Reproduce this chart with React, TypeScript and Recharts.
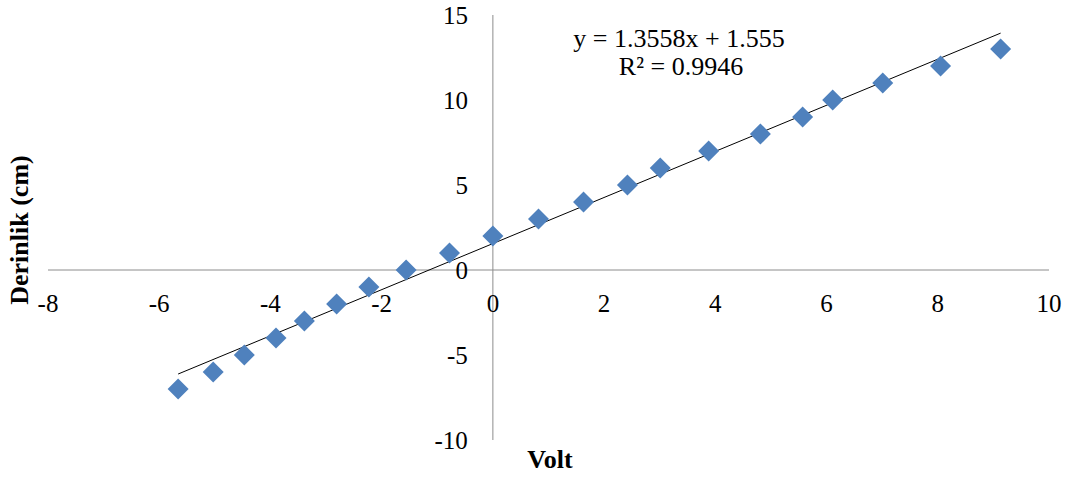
import { ComposedChart, Scatter, XAxis, YAxis, ReferenceLine, ReferenceDot } from "recharts";

// Volt readings (x) and depth in cm (y)
const volt = [
  -5.66, -5.03, -4.47, -3.9, -3.39, -2.81, -2.23, -1.56, -0.78, 0, 0.82,
  1.63, 2.42, 3.01, 3.88, 4.81, 5.57, 6.11, 7.01, 8.05, 9.13,
];
const depth = [-7, -6, -5, -4, -3, -2, -1, 0, 1, 2, 3, 4, 5, 6, 7, 8, 9, 10, 11, 12, 13];

const xTicks = [-8, -6, -4, -2, 0, 2, 4, 6, 8, 10];
const yTicks = [-10, -5, 0, 5, 10, 15];

// linear trendline as given on the chart
const slope = 1.3558;
const intercept = 1.555;

const FONT = "'Liberation Serif', 'Times New Roman', serif";
const AXIS_GRAY = "#8c8c8c";

const points = volt.map((v, i) => ({ x: v, y: depth[i] }));
const xMin = Math.min(...volt);
const xMax = Math.max(...volt);
const trend = [
  { x: xMin, y: slope * xMin + intercept },
  { x: xMax, y: slope * xMax + intercept },
];

const Diamond = (props: any) => {
  const { cx, cy } = props;
  const r = 10.5;
  return (
    <polygon
      points={`${cx},${cy - r} ${cx + r},${cy} ${cx},${cy + r} ${cx - r},${cy}`}
      fill="#4f81bd"
    />
  );
};

export default function App() {
  return (
    <div style={{ position: "absolute", left: 0, top: 0, background: "#fff" }}>
      <ComposedChart
        width={1078}
        height={480}
        data={points}
        margin={{ top: 15, right: 29, bottom: 40, left: 48 }}
      >
        <XAxis type="number" dataKey="x" domain={[-8, 10]} ticks={xTicks} allowDataOverflow hide />
        <YAxis type="number" dataKey="y" domain={[-10, 15]} ticks={yTicks} allowDataOverflow hide />

        {/* axes crossing at the origin */}
        <ReferenceLine y={0} stroke={AXIS_GRAY} strokeWidth={1} />
        <ReferenceLine x={0} stroke={AXIS_GRAY} strokeWidth={1} />

        {xTicks.map((t) => (
          <ReferenceDot
            key={`xt${t}`}
            x={t}
            y={0}
            shape={(p: any) => (
              <text x={p.cx} y={p.cy + 42} textAnchor="middle" style={{ fontFamily: FONT }} fontSize={25} fill="#000">
                {t}
              </text>
            )}
          />
        ))}
        {yTicks.map((t) => (
          <ReferenceDot
            key={`yt${t}`}
            x={0}
            y={t}
            shape={(p: any) => (
              <text x={p.cx - 25} y={p.cy + 9} textAnchor="end" style={{ fontFamily: FONT }} fontSize={25} fill="#000">
                {t}
              </text>
            )}
          />
        ))}

        <ReferenceLine segment={trend} stroke="#000" strokeWidth={1} />

        <Scatter dataKey="y" shape={Diamond} isAnimationActive={false} />

        <text x={679} y={47} textAnchor="middle" fontFamily={FONT} fontSize={26} fill="#000">
          y = 1.3558x + 1.555
        </text>
        <text x={681} y={75} textAnchor="middle" fontFamily={FONT} fontSize={26} fill="#000">
          R² = 0.9946
        </text>

        <text x={550} y={468} textAnchor="middle" fontFamily={FONT} fontSize={26} fontWeight="bold" fill="#000">
          Volt
        </text>
        <text
          x={28}
          y={230}
          transform="rotate(-90, 28, 230)"
          textAnchor="middle"
          fontFamily={FONT}
          fontSize={26}
          fontWeight="bold"
          fill="#000"
        >
          Derinlik (cm)
        </text>
      </ComposedChart>
    </div>
  );
}
